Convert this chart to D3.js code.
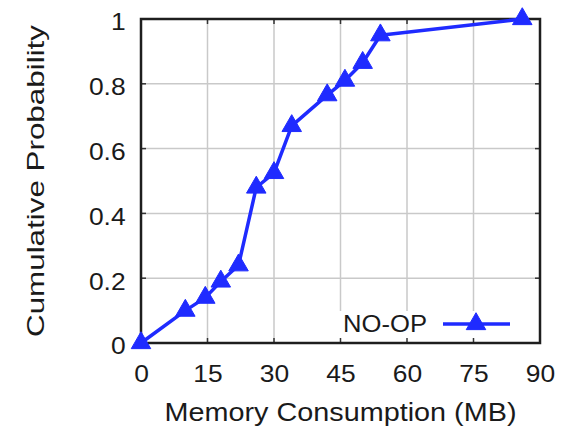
<!DOCTYPE html>
<html>
<head>
<meta charset="utf-8">
<script src="https://cdn.jsdelivr.net/npm/d3@7"></script>
<style>
  body { margin: 0; background: #fff; }
  text { font-family: "Liberation Sans", Arial, Helvetica, sans-serif; fill: #1a1a1a; }
</style>
</head>
<body>
<svg id="chart" width="569" height="433"></svg>
<script>
// CDF of memory consumption for the NO-OP configuration
const memoryMB = [0, 10, 14.5, 18, 22, 26, 30, 34, 42, 46, 50, 54, 86];
const cumProb  = [0, 0.10, 0.14, 0.19, 0.24, 0.48, 0.525, 0.67, 0.765, 0.81, 0.865, 0.95, 1.0];
const xTicks = [0, 15, 30, 45, 60, 75, 90];
const yTicks = [0, 0.2, 0.4, 0.6, 0.8, 1];
const seriesName = "NO-OP";
const xTitle = "Memory Consumption (MB)";
const yTitle = "Cumulative Probability";

const W = 569, H = 433;
const m = { left: 141, right: 29, top: 19, bottom: 90 };
const blue = "#1f2bff";

const svg = d3.select("#chart");
svg.append("rect").attr("width", W).attr("height", H).attr("fill", "#fff");

const x = d3.scaleLinear().domain([0, 90]).range([m.left, W - m.right]);
const y = d3.scaleLinear().domain([0, 1]).range([H - m.bottom, m.top]);
const [x0, x1] = x.range();
const [y0, y1] = y.range();

// grid
const grid = svg.append("g").attr("stroke", "#c9c9c9").attr("stroke-width", 1.5);
grid.selectAll("line.gx").data(xTicks.slice(1, -1)).join("line")
  .attr("x1", d => x(d)).attr("x2", d => x(d)).attr("y1", y0).attr("y2", y1);
grid.selectAll("line.gy").data(yTicks.slice(1, -1)).join("line")
  .attr("y1", d => y(d)).attr("y2", d => y(d)).attr("x1", x0).attr("x2", x1);

// legend background hides the grid behind the key
svg.append("rect").attr("x", 332).attr("y", 311).attr("width", x1 - 332).attr("height", y0 - 311).attr("fill", "#fff");

// inward tick marks on all four sides
const tk = svg.append("g").attr("stroke", "#333").attr("stroke-width", 1.5);
xTicks.forEach(d => {
  tk.append("line").attr("x1", x(d)).attr("x2", x(d)).attr("y1", y0).attr("y2", y0 - 5);
  tk.append("line").attr("x1", x(d)).attr("x2", x(d)).attr("y1", y1).attr("y2", y1 + 5);
});
yTicks.forEach(d => {
  tk.append("line").attr("y1", y(d)).attr("y2", y(d)).attr("x1", x0).attr("x2", x0 + 5);
  tk.append("line").attr("y1", y(d)).attr("y2", y(d)).attr("x1", x1).attr("x2", x1 - 5);
});

// tick labels via d3 axes
const xAxis = svg.append("g").attr("transform", `translate(0,${y0})`)
  .call(d3.axisBottom(x).tickValues(xTicks).tickSize(0).tickFormat(d3.format("d")));
xAxis.select(".domain").remove();
xAxis.selectAll("text").attr("y", 39).attr("dy", 0)
  .attr("font-size", 24).attr("font-family", null).attr("fill", "#1a1a1a")
  .attr("transform", "scale(1.1,1)");

const yAxis = svg.append("g").attr("transform", `translate(${x0},0)`)
  .call(d3.axisLeft(y).tickValues(yTicks).tickSize(0).tickFormat(d => String(d)));
yAxis.select(".domain").remove();
yAxis.selectAll("text").attr("x", -14).attr("dy", "0.45em")
  .attr("font-size", 24).attr("font-family", null).attr("fill", "#1a1a1a")
  .attr("transform", "scale(1.1,1)");

// frame
svg.append("rect").attr("x", x0).attr("y", y1).attr("width", x1 - x0).attr("height", y0 - y1)
  .attr("fill", "none").attr("stroke", "#1e1e1e").attr("stroke-width", 2.5);

// series
const pts = memoryMB.map((v, i) => [v, cumProb[i]]);
svg.append("path").datum(pts)
  .attr("fill", "none").attr("stroke", blue).attr("stroke-width", 3.5).attr("stroke-linejoin", "round")
  .attr("d", d3.line().x(d => x(d[0])).y(d => y(d[1])));

const tri = d3.symbol().type(d3.symbolTriangle).size(165);
svg.append("g").selectAll("path").data(pts).join("path")
  .attr("transform", d => `translate(${x(d[0])},${y(d[1])})`)
  .attr("d", tri).attr("fill", blue).attr("stroke", blue).attr("stroke-width", 1);

// legend
svg.append("text").attr("x", 343).attr("y", 332).attr("font-size", 24)
  .attr("textLength", 84).attr("lengthAdjust", "spacingAndGlyphs").text(seriesName);
svg.append("line").attr("x1", 443).attr("x2", 510).attr("y1", 324).attr("y2", 324)
  .attr("stroke", blue).attr("stroke-width", 3.5);
svg.append("path").attr("transform", "translate(476,324)").attr("d", tri)
  .attr("fill", blue).attr("stroke", blue).attr("stroke-width", 1);

// axis titles
svg.append("text").attr("x", (x0 + x1) / 2).attr("y", 421).attr("text-anchor", "middle")
  .attr("font-size", 25).attr("textLength", 352).attr("lengthAdjust", "spacingAndGlyphs").text(xTitle);
svg.append("text").attr("transform", `translate(44,${(25 + 337) / 2}) rotate(-90)`)
  .attr("text-anchor", "middle").attr("font-size", 24)
  .attr("textLength", 312).attr("lengthAdjust", "spacingAndGlyphs").text(yTitle);
</script>
</body>
</html>
